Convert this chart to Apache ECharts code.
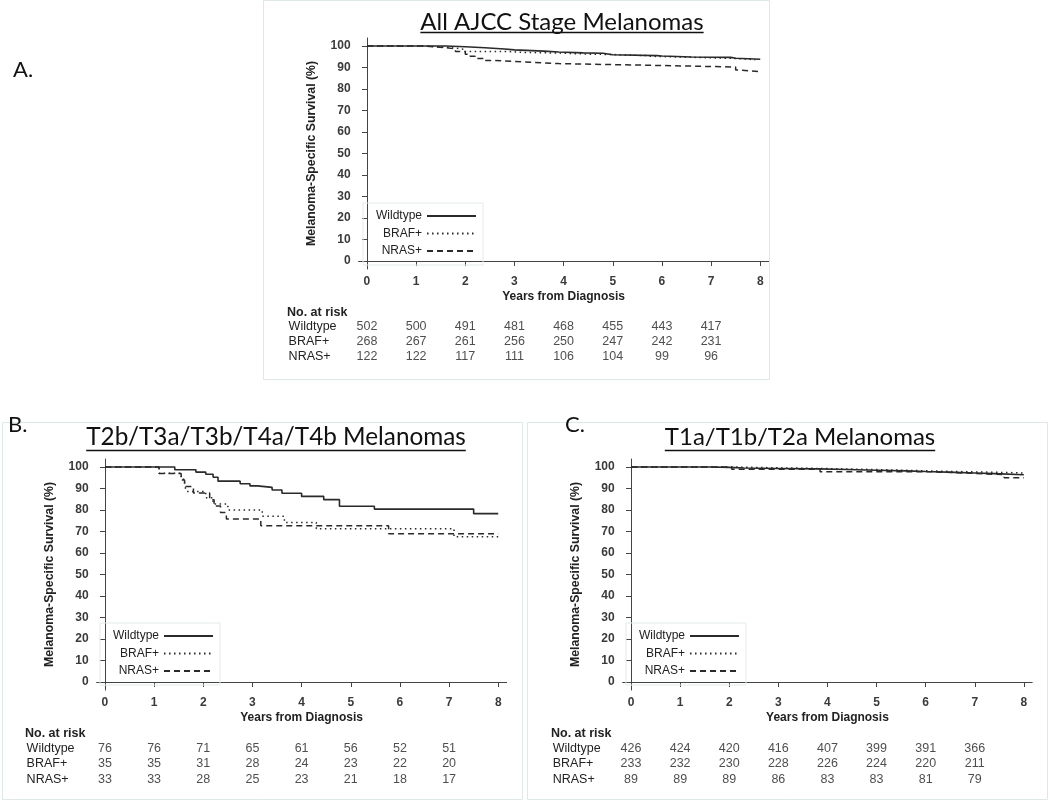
<!DOCTYPE html>
<html><head><meta charset="utf-8">
<script src="https://cdn.jsdelivr.net/npm/echarts@6/dist/echarts.min.js"></script>
<style>html,body{margin:0;padding:0;background:#fff}#c{width:1050px;height:802px}</style>
</head><body><div id="c"></div>
<script>
// ---------- DATA ----------
const groups = ['Wildtype', 'BRAF+', 'NRAS+'];
const riskYears = [0, 1, 2, 3, 4, 5, 6, 7];
const xTicks = [0, 1, 2, 3, 4, 5, 6, 7, 8];
const yTicks = [0, 10, 20, 30, 40, 50, 60, 70, 80, 90, 100];

// Panel A: All AJCC stage melanomas (year, survival %)
const allWildtype = [[0,100],[1.4,100],[1.6,99.6],[2.0,99.2],[2.4,98.6],[2.8,98.2],[3.0,97.6],[3.6,97.2],[3.9,96.8],[4.4,96.6],[4.8,95.9],[5.0,95.5],[5.9,95.3],[6.0,94.9],[6.6,94.7],[7.4,94.3],[7.5,93.8],[8.0,93.8]];
const allBraf = [[0,100],[1.1,99.6],[1.5,99.0],[1.8,98.4],[2.0,97.4],[2.9,97.0],[3.2,96.7],[3.9,96.2],[4.5,96.0],[5.0,95.5],[5.7,95.2],[5.8,94.5],[7.0,94.2],[7.5,93.6],[7.9,93.6]];
const allNras = [[0,100],[1.1,99.2],[1.6,98.6],[1.8,97.4],[2.0,96.2],[2.1,95.2],[2.2,94.2],[2.4,93.2],[2.6,92.6],[3.2,91.8],[3.9,91.0],[5.8,90.2],[7.5,88.8],[7.6,88.0],[8.0,88.0]];
const allRiskWildtype = [502, 500, 491, 481, 468, 455, 443, 417];
const allRiskBraf = [268, 267, 261, 256, 250, 247, 242, 231];
const allRiskNras = [122, 122, 117, 111, 106, 104, 99, 96];

// Panel B: T2b/T3a/T3b/T4a/T4b melanomas
const thickWildtype = [[0,100],[1.42,98.7],[1.85,97.6],[2.05,96.6],[2.2,95.2],[2.3,93.4],[2.75,92.2],[2.95,91.2],[3.1,90.5],[3.4,89.3],[3.6,87.8],[4.0,86.3],[4.45,84.8],[4.77,81.7],[5.48,80.4],[7.5,78.3],[8.0,78.3]];
const thickBraf = [[0,100],[1.1,97.1],[1.55,94.3],[1.62,91.4],[1.66,88.6],[2.05,85.7],[2.2,82.8],[2.5,80.0],[3.2,77.1],[3.65,74.2],[4.3,71.3],[7.1,67.5],[8.0,67.5]];
const thickNras = [[0,100],[1.1,97.0],[1.55,93.9],[1.62,90.9],[1.8,87.9],[2.13,84.8],[2.22,81.8],[2.35,78.8],[2.47,75.8],[3.17,72.7],[5.77,68.9],[8.0,68.9]];
const thickRiskWildtype = [76, 76, 71, 65, 61, 56, 52, 51];
const thickRiskBraf = [35, 35, 31, 28, 24, 23, 22, 20];
const thickRiskNras = [33, 33, 28, 25, 23, 21, 18, 17];

// Panel C: T1a/T1b/T2a melanomas
const thinWildtype = [[0,100],[1.6,99.8],[2.0,99.5],[2.3,99.3],[3.0,99.1],[3.8,98.8],[4.4,98.5],[5.0,98.2],[5.6,97.9],[6.0,97.5],[6.6,97.2],[7.0,96.9],[7.4,96.4],[8.0,96.4]];
const thinBraf = [[0,100],[2.0,99.6],[3.0,99.2],[4.1,98.7],[5.2,98.2],[6.0,97.8],[6.8,97.4],[7.7,97.2],[8.0,97.2]];
const thinNras = [[0,100],[2.05,98.9],[3.85,97.8],[6.1,97.0],[7.0,96.4],[7.6,95.0],[8.0,95.0]];
const thinRiskWildtype = [426, 424, 420, 416, 407, 399, 391, 366];
const thinRiskBraf = [233, 232, 230, 228, 226, 224, 220, 211];
const thinRiskNras = [89, 89, 89, 86, 83, 83, 81, 79];

// ---------- LAYOUT ----------
const panels = [
  { label: 'A.', labelPos: [13, 70], title: 'All AJCC Stage Melanomas', titleX: 562, titleY: 22, titleSize: 24, ulY: 32.5,
    frame: [263.5, 0.5, 506, 379],
    curves: [allWildtype, allBraf, allNras], risk: [allRiskWildtype, allRiskBraf, allRiskNras],
    grid: { left: 358.6, top: 38, width: 410, height: 231 },
    riskGrid: { left: 358.6, top: 319.5, width: 410, height: 45 }, riskHead: [287, 313],
    legend: { left: 363, top: 203 } },
  { label: 'B.', labelPos: [8, 425], title: 'T2b/T3a/T3b/T4a/T4b Melanomas', titleX: 276, titleY: 437, titleSize: 24.3, ulY: 450.5,
    frame: [2.5, 422.5, 520, 377],
    curves: [thickWildtype, thickBraf, thickNras], risk: [thickRiskWildtype, thickRiskBraf, thickRiskNras],
    grid: { left: 96.6, top: 459, width: 410, height: 231 },
    riskGrid: { left: 96.6, top: 740.5, width: 410, height: 46.5 }, riskHead: [25, 734],
    legend: { left: 100, top: 623 } },
  { label: 'C.', labelPos: [565, 425], title: 'T1a/T1b/T2a Melanomas', titleX: 800, titleY: 437, titleSize: 24, ulY: 450.5,
    frame: [527.5, 422.5, 520, 377],
    curves: [thinWildtype, thinBraf, thinNras], risk: [thinRiskWildtype, thinRiskBraf, thinRiskNras],
    grid: { left: 622.7, top: 459, width: 409.5, height: 231 },
    riskGrid: { left: 622.7, top: 740.5, width: 409.5, height: 46.5 }, riskHead: [551, 734],
    legend: { left: 626, top: 623 } }
];

const ink = '#2a2a2a';
const lineStyles = [
  { type: 'solid', width: 1.6 },
  { type: [1.5, 3.5], width: 1.5 },
  { type: [6, 4], width: 1.5 }
];
const sans = 'Liberation Sans';
const titleFont = 'Lato';

function textWidth(txt, font) {
  const ctx = document.createElement('canvas').getContext('2d');
  ctx.font = font;
  return ctx.measureText(txt).width;
}

const grids = [], xAxes = [], yAxes = [], series = [], legends = [], graphics = [];

panels.forEach((p, i) => {
  const gi = grids.length;
  grids.push(Object.assign({ containLabel: false }, p.grid));
  grids.push(Object.assign({ containLabel: false }, p.riskGrid));

  xAxes.push({
    gridIndex: gi, type: 'value', min: -0.17, max: 8.17,
    axisLine: { show: true, lineStyle: { color: '#444', width: 1 } },
    axisTick: { show: true, length: 5, customValues: xTicks, lineStyle: { color: '#444' } },
    axisLabel: { customValues: xTicks, margin: 7, fontSize: 12, fontWeight: 'bold', color: '#3a3a3a', fontFamily: sans },
    splitLine: { show: false },
    name: 'Years from Diagnosis', nameLocation: 'middle', nameGap: 22,
    nameTextStyle: { fontFamily: sans, fontWeight: 'bold', fontSize: 12, color: '#222' }
  });
  yAxes.push({
    gridIndex: gi, type: 'value', min: -3.7, max: 103.7,
    axisLine: { show: true, lineStyle: { color: '#444', width: 1 } },
    axisTick: { show: true, length: 5, customValues: yTicks, lineStyle: { color: '#444' } },
    axisLabel: { customValues: yTicks, margin: 8, fontSize: 12, fontWeight: 'bold', color: '#3a3a3a', fontFamily: sans },
    splitLine: { show: false },
    name: 'Melanoma-Specific Survival (%)', nameLocation: 'middle', nameGap: 41, nameRotate: 90,
    nameTextStyle: { fontFamily: sans, fontWeight: 'bold', fontSize: 12.3, color: '#222' }
  });
  // risk table axes
  xAxes.push({ gridIndex: gi + 1, type: 'value', min: -0.17, max: 8.17, show: false });
  yAxes.push({
    gridIndex: gi + 1, type: 'category', data: groups, inverse: true,
    axisLine: { show: false }, axisTick: { show: false }, splitLine: { show: false },
    axisLabel: { interval: 0, align: 'left', margin: 70, fontSize: 12.5, color: '#222', fontFamily: sans }
  });

  p.curves.forEach((c, k) => {
    series.push({
      name: groups[k], type: 'line', step: 'end', xAxisIndex: gi, yAxisIndex: gi,
      data: c, symbol: 'none', showSymbol: false, silent: true, animation: false,
      lineStyle: Object.assign({ color: ink }, lineStyles[k]), itemStyle: { color: ink }
    });
  });
  const riskData = [];
  p.risk.forEach((row, r) => row.forEach((v, j) => riskData.push([riskYears[j], groups[r], v])));
  series.push({
    name: 'risk' + i, type: 'scatter', xAxisIndex: gi + 1, yAxisIndex: gi + 1,
    data: riskData, symbolSize: 0, silent: true, animation: false,
    label: { show: true, position: 'inside', formatter: d => String(d.value[2]),
      fontFamily: sans, fontSize: 12.5, color: '#222' }
  });

  legends.push({
    data: groups, orient: 'vertical', align: 'right',
    left: p.legend.left, top: p.legend.top,
    itemWidth: 49, itemHeight: 14, itemGap: 5.5, padding: [7, 6, 8, 13],
    borderColor: '#e2eaea', borderWidth: 1, selectedMode: false,
    itemStyle: { opacity: 0 },
    textStyle: { fontFamily: sans, fontSize: 12, color: '#222' }
  });

  // frame, labels, titles
  graphics.push({ type: 'rect', z: -1, silent: true,
    shape: { x: p.frame[0], y: p.frame[1], width: p.frame[2], height: p.frame[3] },
    style: { fill: 'none', stroke: '#dfe8e8', lineWidth: 1 } });
  graphics.push({ type: 'text', x: p.labelPos[0], y: p.labelPos[1], silent: true,
    style: { text: p.label, font: '22px ' + titleFont, fill: '#111', verticalAlign: 'middle', align: 'left' } });
  const tFont = p.titleSize + 'px ' + titleFont;
  graphics.push({ type: 'text', x: p.titleX, y: p.titleY, silent: true,
    style: { text: p.title, font: tFont, fill: '#111', align: 'center', verticalAlign: 'middle' } });
  const w = textWidth(p.title, tFont);
  graphics.push({ type: 'line', silent: true,
    shape: { x1: p.titleX - w / 2, y1: p.ulY, x2: p.titleX + w / 2, y2: p.ulY },
    style: { stroke: '#111', lineWidth: 1.3 } });
  graphics.push({ type: 'text', x: p.riskHead[0], y: p.riskHead[1], silent: true,
    style: { text: 'No. at risk', font: 'bold 12.5px ' + sans, fill: '#222', verticalAlign: 'middle', align: 'left' } });
});

const chart = echarts.init(document.getElementById('c'), null, { renderer: 'canvas' });
chart.setOption({
  backgroundColor: '#fff',
  animation: false,
  grid: grids, xAxis: xAxes, yAxis: yAxes, series: series, legend: legends, graphic: graphics
});
</script>
</body></html>
